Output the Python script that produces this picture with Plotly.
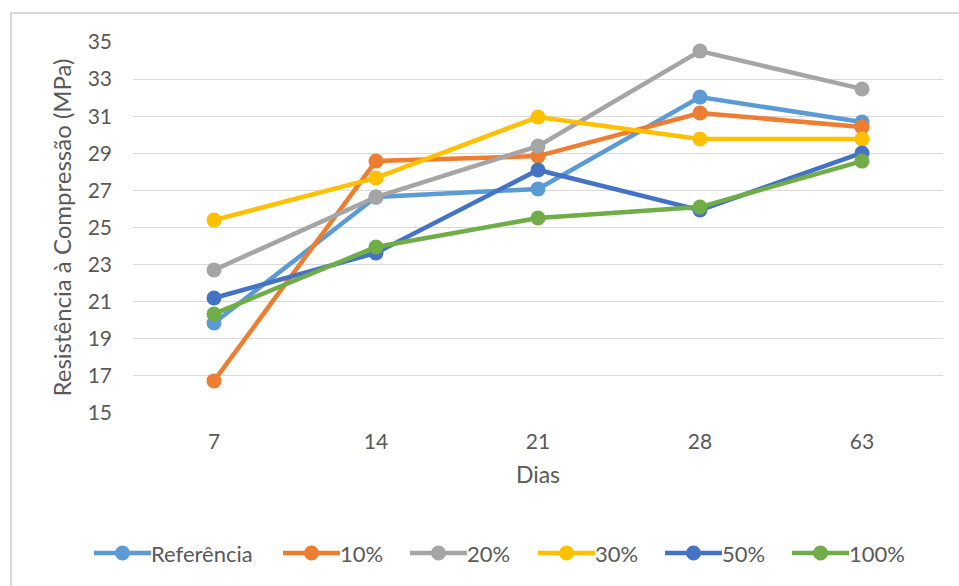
import plotly.graph_objects as go

dias = ["7", "14", "21", "28", "63"]
series_names = ["Referência", "10%", "20%", "30%", "50%", "100%"]
referencia = [19.85, 26.64, 27.08, 32.03, 30.69]
p10 = [16.73, 28.58, 28.85, 31.17, 30.42]
p20 = [22.71, 26.64, 29.39, 34.51, 32.47]
p30 = [25.40, 27.67, 30.96, 29.77, 29.77]
p50 = [21.20, 23.63, 28.10, 25.94, 29.02]
p100 = [20.34, 23.95, 25.51, 26.10, 28.58]
y_ticks = [15, 17, 19, 21, 23, 25, 27, 29, 31, 33, 35]

colors = ["#5B9BD5", "#ED7D31", "#A5A5A5", "#FFC000", "#4472C4", "#70AD47"]
all_series = [referencia, p10, p20, p30, p50, p100]

# layout geometry (pixels)
W, H = 959, 586
L, R, T, B = 133, 16, 42, 173
PW, PH = W - L - R, H - T - B


def px_x(px):
    return (px - L) / PW


def px_y(py):
    return 1 - (py - T) / PH


fig = go.Figure()
for name, vals, c in zip(series_names, all_series, colors):
    fig.add_trace(go.Scatter(
        x=dias, y=vals, name=name, mode="lines+markers",
        line=dict(color=c, width=4.5),
        marker=dict(color=c, size=15),
        showlegend=False,
    ))

font_family = "Lato, Open Sans, sans-serif"
txt_color = "#595959"

shapes = [dict(type="rect", xref="paper", yref="paper", x0=px_x(11), x1=px_x(990), y0=px_y(620), y1=px_y(13),
               line=dict(color="#D9D9D9", width=2), fillcolor="rgba(0,0,0,0)", layer="below")]
annotations = []

# manual legend
legend_starts = [94, 283, 410, 538, 665, 792]
legend_y = 553
line_len = 57
for name, c, sx in zip(series_names, colors, legend_starts):
    shapes.append(dict(type="line", xref="paper", yref="paper",
                       x0=px_x(sx), x1=px_x(sx + line_len), y0=px_y(legend_y), y1=px_y(legend_y),
                       line=dict(color=c, width=4.5)))
    shapes.append(dict(type="circle", xref="paper", yref="paper", xsizemode="pixel", ysizemode="pixel",
                       xanchor=px_x(sx + line_len / 2), yanchor=px_y(legend_y),
                       x0=-7.5, x1=7.5, y0=-7.5, y1=7.5, fillcolor=c, line=dict(color=c, width=0)))
    annotations.append(dict(xref="paper", yref="paper", x=px_x(sx + line_len - 2), y=px_y(legend_y),
                            xanchor="left", yanchor="middle", text=name, showarrow=False,
                            font=dict(size=22, color=txt_color, family=font_family)))

fig.update_layout(
    width=W, height=H,
    margin=dict(l=L, r=R, t=T, b=B),
    paper_bgcolor="white", plot_bgcolor="white",
    font=dict(family=font_family, color=txt_color, size=21),
    showlegend=False,
    xaxis=dict(type="category", range=[-0.5, 4.5], showgrid=False, showline=False, ticks="",
               tickfont=dict(size=21), ticklabelstandoff=14,
               title=dict(text="Dias", font=dict(size=23), standoff=14)),
    yaxis=dict(range=[15, 35], tickvals=y_ticks, showgrid=True, gridcolor="#D9D9D9", gridwidth=1,
               zeroline=False, showline=False, ticks="", tickfont=dict(size=21), ticklabelstandoff=20,
               title=dict(text="Resistência à Compressão (MPa)", font=dict(size=24), standoff=9)),
    shapes=shapes,
    annotations=annotations,
)

fig.write_html("out.html")
